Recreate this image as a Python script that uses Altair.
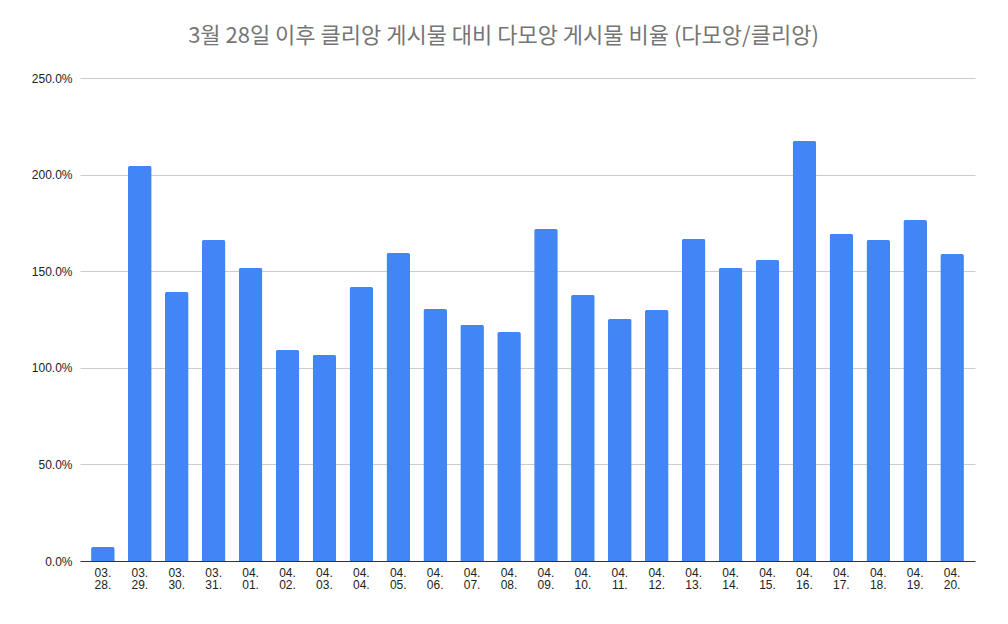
import altair as alt
import pandas as pd

dates = ["03. 28.", "03. 29.", "03. 30.", "03. 31.", "04. 01.", "04. 02.", "04. 03.", "04. 04.",
         "04. 05.", "04. 06.", "04. 07.", "04. 08.", "04. 09.", "04. 10.", "04. 11.", "04. 12.",
         "04. 13.", "04. 14.", "04. 15.", "04. 16.", "04. 17.", "04. 18.", "04. 19.", "04. 20."]
ratios = [0.072, 2.045, 1.392, 1.661, 1.517, 1.092, 1.066, 1.418,
          1.594, 1.304, 1.222, 1.185, 1.718, 1.377, 1.253, 1.299,
          1.667, 1.517, 1.558, 2.174, 1.693, 1.661, 1.765, 1.589]
y_ticks = [0, 0.5, 1.0, 1.5, 2.0, 2.5]

df = pd.DataFrame({"date": dates, "ratio": ratios})

chart = alt.Chart(df).mark_bar(
    color="#4285F4", cornerRadiusTopLeft=2, cornerRadiusTopRight=2
).encode(
    x=alt.X("date:N", sort=dates, title=None,
            scale=alt.Scale(paddingInner=0.36, paddingOuter=0.3),
            axis=alt.Axis(labelAngle=0, labelExpr="split(datum.label, ' ')",
                          labelFont="Liberation Sans", labelFontSize=12, labelColor="#222222",
                          labelPadding=6, labelLineHeight=12, ticks=False, grid=False,
                          domainColor="#333333", labelBaseline="top")),
    y=alt.Y("ratio:Q", title=None,
            scale=alt.Scale(domain=[0, 2.5], nice=False),
            axis=alt.Axis(values=y_ticks, format=".1%", labelFont="Liberation Sans",
                          labelFontSize=12, labelColor="#222222", labelPadding=8,
                          ticks=False, domain=False, gridColor="#cccccc")),
).properties(
    width=895, height=483,
    title=alt.TitleParams("3월 28일 이후 클리앙 게시물 대비 다모앙 게시물 비율 (다모앙/클리앙)",
                          font="Noto Sans CJK KR", fontSize=22, fontWeight="normal",
                          color="#757575", anchor="middle", offset=24, dx=-24),
    autosize=alt.AutoSizeParams(type="none"),
    padding={"left": 80, "top": 78, "right": 33, "bottom": 63},
    background="white",
).configure_view(stroke=None)

chart.save("out.html", embed_options={"renderer": "svg", "actions": False})
